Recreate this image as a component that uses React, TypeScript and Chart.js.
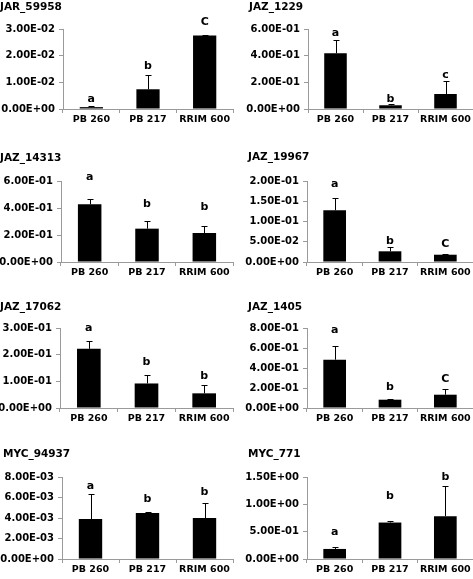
import React, { useEffect, useRef } from "react";
import { Chart, registerables } from "chart.js";

Chart.register(...registerables);

const categories = ["PB 260", "PB 217", "RRIM 600"];

const titles = ["JAR_59958", "JAZ_1229", "JAZ_14313", "JAZ_19967", "JAZ_17062", "JAZ_1405", "MYC_94937", "MYC_771"];

const jar59958Values = [0.0007, 0.0074, 0.0276];
const jar59958Errors = [0.0005, 0.0053, 0.0002];
const jaz1229Values = [0.418, 0.028, 0.1125];
const jaz1229Errors = [0.1, 0.006, 0.098];
const jaz14313Values = [0.427, 0.247, 0.215];
const jaz14313Errors = [0.037, 0.06, 0.055];
const jaz19967Values = [0.1277, 0.0264, 0.018];
const jaz19967Errors = [0.03, 0.011, 0.001];
const jaz17062Values = [0.222, 0.092, 0.055];
const jaz17062Errors = [0.03, 0.03, 0.032];
const jaz1405Values = [0.483, 0.083, 0.133];
const jaz1405Errors = [0.133, 0.005, 0.057];
const myc94937Values = [0.0039, 0.00448, 0.00399];
const myc94937Errors = [0.0024, 0.00015, 0.0015];
const myc771Values = [0.184, 0.667, 0.784];
const myc771Errors = [0.03, 0.036, 0.56];

const seriesValues = [jar59958Values, jaz1229Values, jaz14313Values, jaz19967Values, jaz17062Values, jaz1405Values, myc94937Values, myc771Values];
const seriesErrors = [jar59958Errors, jaz1229Errors, jaz14313Errors, jaz19967Errors, jaz17062Errors, jaz1405Errors, myc94937Errors, myc771Errors];

const groupLetters = [
  ["a", "b", "C"],
  ["a", "b", "c"],
  ["a", "b", "b"],
  ["a", "b", "C"],
  ["a", "b", "b"],
  ["a", "b", "C"],
  ["a", "b", "b"],
  ["a", "b", "b"],
];
// letter anchor heights (data units)
const letterHeights = [
  [0.0036, 0.0159, 0.0324],
  [0.572, 0.073, 0.255],
  [0.63, 0.425, 0.403],
  [0.192, 0.052, 0.043],
  [0.3, 0.171, 0.121],
  [0.783, 0.21, 0.29],
  [0.00708, 0.00588, 0.00653],
  [0.49, 1.15, 1.5],
];

const yMaxes = [0.03, 0.6, 0.6, 0.2, 0.3, 0.8, 0.008, 1.5];
const ySteps = [0.01, 0.2, 0.2, 0.05, 0.1, 0.2, 0.002, 0.5];

// layout (pixels, relative to each panel)
const panelLayout = [
  { x: 0, y: 0, w: 236, h: 145, tx: 0, ty: 7, ax: 63, top: 29, bottom: 109, right: 233 },
  { x: 236, y: 0, w: 237, h: 145, tx: 13, ty: 7, ax: 72, top: 29, bottom: 109, right: 237 },
  { x: 0, y: 145, w: 236, h: 145, tx: 0, ty: 13, ax: 61, top: 36, bottom: 117, right: 233 },
  { x: 236, y: 145, w: 237, h: 145, tx: 12, ty: 12, ax: 71, top: 36, bottom: 117, right: 237 },
  { x: 0, y: 290, w: 236, h: 144, tx: 0, ty: 17, ax: 60, top: 38, bottom: 118, right: 233 },
  { x: 236, y: 290, w: 237, h: 144, tx: 12, ty: 17, ax: 71, top: 38, bottom: 118, right: 237 },
  { x: 0, y: 434, w: 236, h: 145, tx: 3, ty: 20, ax: 62, top: 43, bottom: 125, right: 233 },
  { x: 236, y: 434, w: 237, h: 145, tx: 12, ty: 20, ax: 71, top: 43, bottom: 125, right: 237 },
];

const FONT = "'DejaVu Sans', sans-serif";
const AXIS_GRAY = "#9a9a9a";

function fmtExp(v: number): string {
  const s = Number(v).toExponential(2);
  const [m, e] = s.split("e");
  const n = parseInt(e, 10);
  return m + "E" + (n < 0 ? "-" : "+") + String(Math.abs(n)).padStart(2, "0");
}

function Panel({ idx }: { idx: number }) {
  const ref = useRef<HTMLCanvasElement>(null);
  const L = panelLayout[idx];
  useEffect(() => {
    if (!ref.current) return;
    const values = seriesValues[idx];
    const errors = seriesErrors[idx];
    const letters = groupLetters[idx];
    const lh = letterHeights[idx];
    const overlay = {
      id: "overlay" + idx,
      afterDatasetsDraw(chart: any) {
        const ctx = chart.ctx;
        const meta = chart.getDatasetMeta(0);
        const ys = chart.scales.y;
        ctx.save();
        ctx.strokeStyle = "#000";
        ctx.lineWidth = 1;
        meta.data.forEach((bar: any, i: number) => {
          const x = Math.round(bar.x) + 0.5;
          const yb = ys.getPixelForValue(values[i]);
          const yt = Math.round(ys.getPixelForValue(values[i] + errors[i])) + 0.5;
          ctx.beginPath();
          ctx.moveTo(x, yb);
          ctx.lineTo(x, yt);
          ctx.moveTo(x - 3, yt);
          ctx.lineTo(x + 3, yt);
          ctx.stroke();
        });
        ctx.fillStyle = "#000";
        ctx.font = "bold 11px " + FONT;
        ctx.textAlign = "center";
        ctx.textBaseline = "middle";
        meta.data.forEach((bar: any, i: number) => {
          ctx.fillText(letters[i], bar.x, ys.getPixelForValue(lh[i]));
        });
        ctx.font = "bold 10.5px " + FONT;
        ctx.textAlign = "left";
        ctx.fillText(titles[idx], L.tx, L.ty);
        ctx.restore();
      },
    };
    const chart = new Chart(ref.current, {
      type: "bar",
      data: {
        labels: categories,
        datasets: [
          {
            data: values,
            backgroundColor: "#000",
            borderWidth: 0,
            categoryPercentage: 1,
            barPercentage: 0.41,
          },
        ],
      },
      options: {
        animation: false,
        responsive: false,
        maintainAspectRatio: false,
        devicePixelRatio: 1,
        layout: { padding: { left: 0, top: L.top, right: L.w - L.right, bottom: 0 } },
        plugins: { legend: { display: false }, tooltip: { enabled: false }, title: { display: false } },
        scales: {
          x: {
            afterFit: (s: any) => {
              s.height = L.h - L.bottom;
            },
            border: { color: AXIS_GRAY, width: 1 },
            grid: { drawOnChartArea: false, drawTicks: true, tickLength: 4, color: AXIS_GRAY, offset: true },
            ticks: { color: "#000", font: { family: FONT, size: 9.5, weight: "bold" }, padding: 1, maxRotation: 0, autoSkip: false },
          },
          y: {
            min: 0,
            max: yMaxes[idx],
            afterFit: (s: any) => {
              s.width = L.ax;
            },
            border: { color: AXIS_GRAY, width: 1 },
            grid: { drawOnChartArea: false, drawTicks: true, tickLength: 4, color: AXIS_GRAY },
            ticks: {
              stepSize: ySteps[idx],
              color: "#000",
              font: { family: FONT, size: 10, weight: "bold" },
              padding: 4,
              callback: (v: any) => fmtExp(Number(v)),
            },
          },
        },
      } as any,
      plugins: [overlay],
    });
    return () => chart.destroy();
  }, [idx]);
  return (
    <canvas
      ref={ref}
      width={L.w}
      height={L.h}
      style={{ position: "absolute", left: L.x, top: L.y, width: L.w, height: L.h, display: "block" }}
    />
  );
}

export default function App() {
  return (
    <div style={{ position: "absolute", left: 0, top: 0, width: 473, height: 579, background: "#fff" }}>
      {titles.map((_, i) => (
        <Panel key={i} idx={i} />
      ))}
    </div>
  );
}
